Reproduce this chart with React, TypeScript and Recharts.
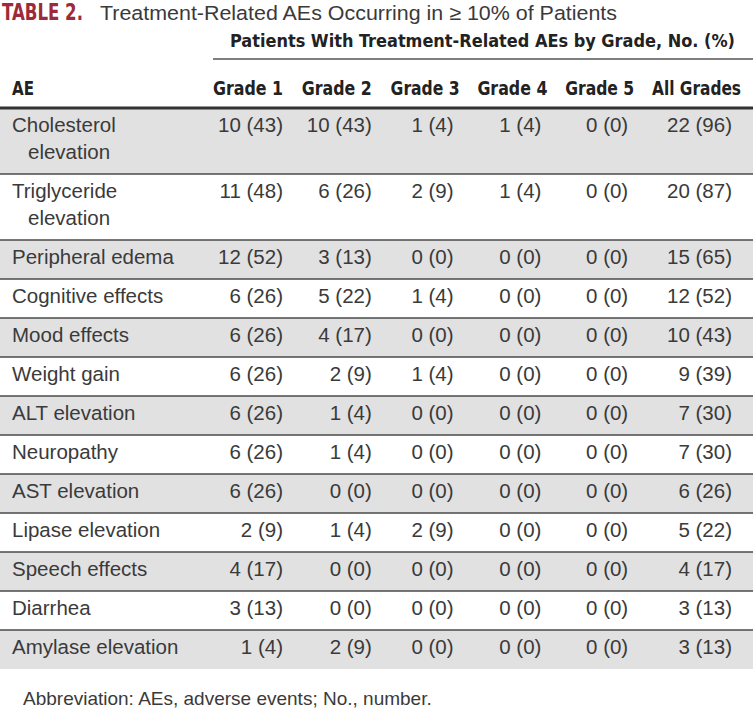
import { ScatterChart, Scatter, XAxis, YAxis, ReferenceArea, ReferenceLine } from 'recharts';

// rows and columns of the table
const AE_NAMES = [
  'Cholesterol elevation',
  'Triglyceride elevation',
  'Peripheral edema',
  'Cognitive effects',
  'Mood effects',
  'Weight gain',
  'ALT elevation',
  'Neuropathy',
  'AST elevation',
  'Lipase elevation',
  'Speech effects',
  'Diarrhea',
  'Amylase elevation',
];
const GRADE_COLUMNS = ['Grade 1', 'Grade 2', 'Grade 3', 'Grade 4', 'Grade 5', 'All Grades'];

// No. of patients / (%) per grade
const GRADE_1_N = [10, 11, 12, 6, 6, 6, 6, 6, 6, 2, 4, 3, 1];
const GRADE_1_PCT = [43, 48, 52, 26, 26, 26, 26, 26, 26, 9, 17, 13, 4];
const GRADE_2_N = [10, 6, 3, 5, 4, 2, 1, 1, 0, 1, 0, 0, 2];
const GRADE_2_PCT = [43, 26, 13, 22, 17, 9, 4, 4, 0, 4, 0, 0, 9];
const GRADE_3_N = [1, 2, 0, 1, 0, 1, 0, 0, 0, 2, 0, 0, 0];
const GRADE_3_PCT = [4, 9, 0, 4, 0, 4, 0, 0, 0, 9, 0, 0, 0];
const GRADE_4_N = [1, 1, 0, 0, 0, 0, 0, 0, 0, 0, 0, 0, 0];
const GRADE_4_PCT = [4, 4, 0, 0, 0, 0, 0, 0, 0, 0, 0, 0, 0];
const GRADE_5_N = [0, 0, 0, 0, 0, 0, 0, 0, 0, 0, 0, 0, 0];
const GRADE_5_PCT = [0, 0, 0, 0, 0, 0, 0, 0, 0, 0, 0, 0, 0];
const ALL_N = [22, 20, 15, 12, 10, 9, 7, 7, 6, 5, 4, 3, 3];
const ALL_PCT = [96, 87, 65, 52, 43, 39, 30, 30, 26, 22, 17, 13, 13];

const COUNTS = [GRADE_1_N, GRADE_2_N, GRADE_3_N, GRADE_4_N, GRADE_5_N, ALL_N];
const PCTS = [GRADE_1_PCT, GRADE_2_PCT, GRADE_3_PCT, GRADE_4_PCT, GRADE_5_PCT, ALL_PCT];

const BODY_FONT = '"Liberation Sans", Arial, sans-serif';
const HEAD_FONT = '"Liberation Sans Narrow", "DejaVu Sans Condensed", "Liberation Sans", sans-serif';
const TEXT = '#3a3a3a';
const STRIPE = '#e1e1e1';

// layout helpers: row height grows with wrapped labels
const LINE_H = 27;
const ROW_PAD = 12;
const rowLines = (name: string) => (name.length > 18 ? 2 : 1);

const rowTops: number[] = [];
let acc = 0;
AE_NAMES.forEach((n) => {
  rowTops.push(acc);
  acc += ROW_PAD + LINE_H * rowLines(n);
});
const TOTAL = acc;

// column spacing: first value column ends at 283px, last at 732px of a 753px wide table
const COL_STEP = (732 - 283) / (GRADE_COLUMNS.length - 1);
const X_DOMAIN = [-283 / COL_STEP, GRADE_COLUMNS.length - 1 + 21 / COL_STEP];

// small nudges so right edges sit where the printed columns do
const VALUE_NUDGE = [0, -1, -9, -11, -14, 0];
const HEAD_NUDGE = [0, -1, -3, -5, -8, 9];
const HEAD_WIDTH = [70, 70, 69, 70, 69, 89];

const cells = GRADE_COLUMNS.flatMap((_, c) =>
  AE_NAMES.map((_, r) => ({ col: c, row: rowTops[r], n: COUNTS[c][r], pct: PCTS[c][r] }))
);
const labels = AE_NAMES.map((name, r) => ({ col: 0, row: rowTops[r], name }));

function CellText(props: any) {
  const { cx, cy, payload } = props;
  return (
    <text
      x={cx + VALUE_NUDGE[payload.col]}
      y={cy + 24}
      textAnchor="end"
      fontFamily={BODY_FONT}
      fontSize={20.5}
      fill={TEXT}
    >
      {`${payload.n} (${payload.pct})`}
    </text>
  );
}

function AeLabel(props: any) {
  const { cy, payload } = props;
  const name: string = payload.name;
  let lines = [name];
  if (rowLines(name) === 2) {
    const k = name.lastIndexOf(' ');
    lines = [name.slice(0, k), name.slice(k + 1)];
  }
  return (
    <text y={cy + 24} fontFamily={BODY_FONT} fontSize={20.5} fill={TEXT}>
      {lines.map((l, j) => (
        <tspan key={j} x={j ? 28 : 12} dy={j ? LINE_H : 0}>
          {l}
        </tspan>
      ))}
    </text>
  );
}

function HeadTick(props: any) {
  const { x, payload } = props;
  const i = payload.value;
  return (
    <text
      x={x + HEAD_NUDGE[i] - HEAD_WIDTH[i] / 2}
      y={95}
      textAnchor="middle"
      fontFamily={HEAD_FONT}
      fontWeight="bold"
      fontSize={19}
      fill="#222"
      textLength={HEAD_WIDTH[i]}
      lengthAdjust="spacingAndGlyphs"
    >
      {GRADE_COLUMNS[i]}
    </text>
  );
}

export default function App() {
  return (
    <div style={{ position: 'relative', width: 753, height: 714, background: '#fff' }}>
      <style>{'body{margin:0}'}</style>
      <ScatterChart width={753} height={714} margin={{ top: 0, right: 0, bottom: 45, left: 0 }}>
        <XAxis
          type="number"
          dataKey="col"
          orientation="top"
          height={108}
          domain={X_DOMAIN}
          ticks={GRADE_COLUMNS.map((_, i) => i)}
          interval={0}
          axisLine={{ stroke: '#333', strokeWidth: 3 }}
          tickLine={false}
          tick={<HeadTick />}
        />
        <YAxis type="number" dataKey="row" reversed domain={[0, TOTAL]} hide />
        {rowTops.map((top, r) =>
          r % 2 === 0 ? (
            <ReferenceArea
              key={`bg${r}`}
              y1={top}
              y2={r + 1 < rowTops.length ? rowTops[r + 1] : TOTAL}
              fill={STRIPE}
              fillOpacity={1}
              stroke="none"
            />
          ) : null
        )}
        {rowTops.slice(1).map((top, r) => (
          <ReferenceLine key={`ln${r}`} y={top} stroke="#4a4a4a" strokeWidth={1.4} />
        ))}
        <Scatter data={labels} shape={<AeLabel />} isAnimationActive={false} />
        <Scatter data={cells} shape={<CellText />} isAnimationActive={false} />
      </ScatterChart>
      <svg
        width={753}
        height={714}
        style={{ position: 'absolute', left: 0, top: 0, pointerEvents: 'none' }}
      >
        <text
          x={2}
          y={20}
          fontFamily={HEAD_FONT}
          fontWeight="bold"
          fontSize={23}
          fill="#9c2a3a"
          textLength={81}
          lengthAdjust="spacingAndGlyphs"
        >
          TABLE 2.
        </text>
        <text
          x={100}
          y={20}
          fontFamily={BODY_FONT}
          fontSize={20.5}
          fill={TEXT}
          textLength={517}
          lengthAdjust="spacingAndGlyphs"
        >
          Treatment-Related AEs Occurring in ≥ 10% of Patients
        </text>
        <text
          x={482.5}
          y={47}
          textAnchor="middle"
          fontFamily={HEAD_FONT}
          fontWeight="bold"
          fontSize={18}
          fill="#222"
          textLength={505}
          lengthAdjust="spacingAndGlyphs"
        >
          Patients With Treatment-Related AEs by Grade, No. (%)
        </text>
        <line x1={213} x2={753} y1={59} y2={59} stroke="#555" strokeWidth={1.5} />
        <text
          x={12}
          y={95}
          fontFamily={HEAD_FONT}
          fontWeight="bold"
          fontSize={19}
          fill="#222"
          textLength={22}
          lengthAdjust="spacingAndGlyphs"
        >
          AE
        </text>
        <text x={23} y={705} fontFamily={BODY_FONT} fontSize={19} fill={TEXT}>
          Abbreviation: AEs, adverse events; No., number.
        </text>
      </svg>
    </div>
  );
}
